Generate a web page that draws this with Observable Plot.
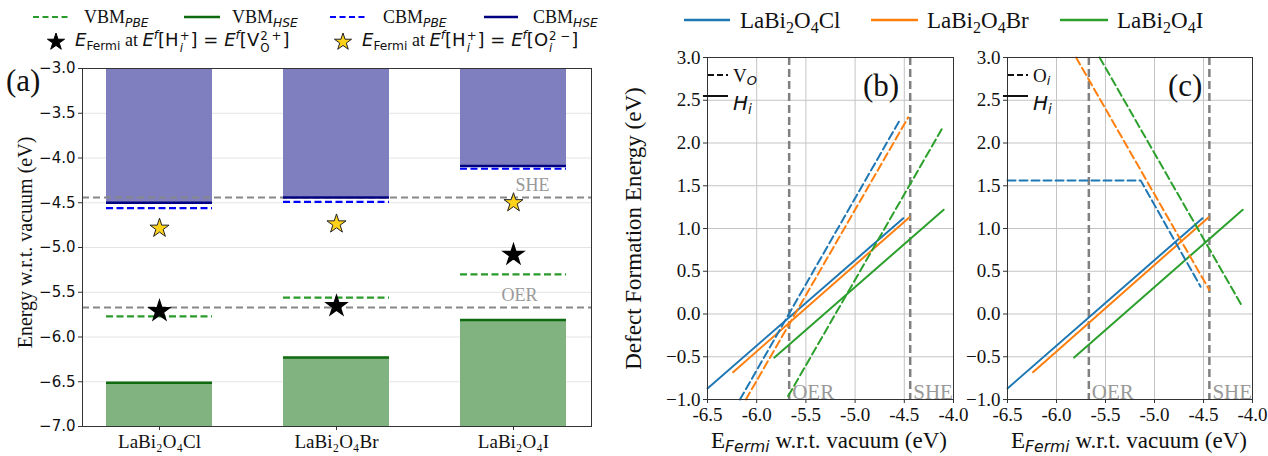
<!DOCTYPE html>
<html><head><meta charset="utf-8">
<script src="https://cdn.jsdelivr.net/npm/d3@7"></script>
<script src="https://cdn.jsdelivr.net/npm/@observablehq/plot@0.6"></script>
<style>
html,body{margin:0;padding:0;background:#fff;overflow:hidden}
#root{position:relative;width:1268px;height:456px;background:#fff}
.ov{position:absolute;white-space:nowrap;line-height:1;color:#111;transform:translateY(-50%)}
.serif{font-family:"Liberation Serif",serif}
.mi{font-family:"DejaVu Sans";font-style:italic}
.ms{font-family:"DejaVu Sans"}
.sb{font-size:0.68em;vertical-align:-0.3em;line-height:0}
.sp{font-size:0.68em;vertical-align:0.55em;line-height:0}
.st{display:inline-flex;flex-direction:column;vertical-align:middle;font-size:0.66em;line-height:1.05;margin:0 1px;font-family:"DejaVu Sans"}
</style></head>
<body><div id="root"></div>
<script>
// ---------- data: panel (a) band edges ----------
const categories = ["LaBi₂O₄Cl", "LaBi₂O₄Br", "LaBi₂O₄I"];
const cbmHSE = [-4.50, -4.44, -4.09];
const cbmPBE = [-4.56, -4.49, -4.12];
const vbmHSE = [-6.51, -6.23, -5.81];
const vbmPBE = [-5.77, -5.56, -5.30];
const starVO = [-5.71, -5.655, -5.08];   // E_Fermi at Ef[H_i+] = Ef[V_O2+]
const starOi = [-4.785, -4.737, -4.50];  // E_Fermi at Ef[H_i+] = Ef[O_i2-]
const refLevels = [-4.44, -5.67];        // SHE, OER
const refNames = ["SHE", "OER"];
const yTicksA = [-7.0, -6.5, -6.0, -5.5, -5.0, -4.5, -4.0, -3.5, -3.0];

// ---------- data: panels (b),(c) defect formation energies ----------
const xTicksB = [-6.5, -6.0, -5.5, -5.0, -4.5, -4.0];
const yTicksB = [-1.0, -0.5, 0.0, 0.5, 1.0, 1.5, 2.0, 2.5, 3.0];
const seriesColors = ["#1f77b4", "#ff7f0e", "#2ca02c"];
const hiCl = [[-6.50, -0.87], [-4.51, 1.12]];
const hiBr = [[-6.24, -0.68], [-4.45, 1.13]];
const hiI  = [[-5.82, -0.51], [-4.10, 1.22]];
const voCl = [[-6.17, -1.00], [-4.54, 2.28]];
const voBr = [[-6.11, -1.00], [-4.46, 2.30]];
const voI  = [[-5.68, -0.96], [-4.12, 2.16]];
const oiCl = [[-6.50, 1.56], [-5.14, 1.56], [-4.53, 0.32]];
const oiBr = [[-5.80, 3.00], [-4.44, 0.28]];
const oiI  = [[-5.56, 3.00], [-4.10, 0.08]];

const root = document.getElementById("root");
function place(el, left, top) {
  el.style.position = "absolute"; el.style.left = left + "px"; el.style.top = top + "px";
  root.appendChild(el);
}
function addHTML(html, left, top, cls, fontSize) {
  const d = document.createElement("div");
  d.className = "ov " + (cls || "");
  d.innerHTML = html;
  d.style.left = left + "px"; d.style.top = top + "px";
  if (fontSize) d.style.fontSize = fontSize + "px";
  root.appendChild(d);
  return d;
}
function lineIcon(x0, x1, y, color, dash, sw) {
  const w = x1 - x0;
  const d = document.createElement("div");
  d.style.position = "absolute"; d.style.left = x0 + "px"; d.style.top = (y - 4) + "px";
  d.innerHTML = `<svg width="${w}" height="8" style="display:block;overflow:visible"><line x1="0" y1="4" x2="${w}" y2="4" stroke="${color}" stroke-width="${sw}" ${dash ? `stroke-dasharray="${dash}"` : ""}/></svg>`;
  root.appendChild(d);
}
function starIcon(cx, cy, fill, stroke, outer) {
  const size = outer * outer / 0.8908130915;
  const p = d3.symbol(d3.symbolStar, size)();
  const d = document.createElement("div");
  d.style.position = "absolute"; d.style.left = (cx - 12) + "px"; d.style.top = (cy - 12) + "px";
  d.innerHTML = `<svg width="24" height="24" viewBox="-12 -12 24 24" style="display:block;overflow:visible"><path d="${p}" fill="${fill}" stroke="${stroke}" stroke-width="1"/></svg>`;
  root.appendChild(d);
}

const baseStyle = {background: "transparent", overflow: "visible", color: "#111"};
const fmtY = d3.format(".1f");
const idx = [0, 1, 2];
const xc = i => categories[i];

// ---------- panel (a) ----------
const plotA = Plot.plot({
  width: 600, height: 456,
  marginLeft: 82, marginRight: 9, marginTop: 68, marginBottom: 30,
  style: baseStyle,
  x: {type: "band", domain: categories, paddingInner: 0.4, paddingOuter: 0.134, axis: null},
  y: {domain: [-7, -3], axis: null},
  marks: [
    Plot.gridY(yTicksA, {stroke: "#e4e4e4", strokeOpacity: 1}),
    Plot.barY(idx, {x: xc, y1: i => cbmHSE[i], y2: () => -3, fill: "#7f7fbf"}),
    Plot.barY(idx, {x: xc, y1: () => -7, y2: i => vbmHSE[i], fill: "#80b380"}),
    Plot.ruleY(refLevels, {stroke: "#888", strokeWidth: 2, strokeDasharray: "7,4"}),
    Plot.tickY(idx, {x: xc, y: i => cbmPBE[i], stroke: "#0000ff", strokeWidth: 2.2, strokeDasharray: "7,3.5"}),
    Plot.tickY(idx, {x: xc, y: i => cbmHSE[i], stroke: "#000080", strokeWidth: 2.5}),
    Plot.tickY(idx, {x: xc, y: i => vbmPBE[i], stroke: "#2a9a2a", strokeWidth: 2.2, strokeDasharray: "7,3.5"}),
    Plot.tickY(idx, {x: xc, y: i => vbmHSE[i], stroke: "#0e6a0e", strokeWidth: 2.5}),
    Plot.dot(idx, {x: xc, y: i => starVO[i], symbol: "star", r: 6.3, fill: "black", stroke: "black"}),
    Plot.dot(idx, {x: xc, y: i => starOi[i], symbol: "star", r: 6, fill: "#ffd21a", stroke: "#222", strokeWidth: 1}),
    Plot.text([0], {frameAnchor: "right", y: i => refLevels[i], text: i => refNames[i], textAnchor: "middle",
      dx: -59, dy: -12, fill: "#999", fontSize: 18, fontFamily: "Liberation Serif"}),
    Plot.text([1], {frameAnchor: "right", y: i => refLevels[i], text: i => refNames[i], textAnchor: "middle",
      dx: -72, dy: -12, fill: "#999", fontSize: 18, fontFamily: "Liberation Serif"}),
    Plot.axisY(yTicksA, {tickFormat: fmtY, tickSize: 4, tickPadding: 3, fontSize: 15, fontFamily: "DejaVu Sans", label: null, stroke: "#333"}),
    Plot.axisX({tickSize: 4, tickPadding: 4, fontSize: 19, fontFamily: "Liberation Serif", label: null, stroke: "#333"}),
    Plot.frame({stroke: "#333"}),
    Plot.text(["Energy w.r.t. vacuum (eV)"], {text: d => d, frameAnchor: "left", textAnchor: "middle", dx: -57, dy: -5, rotate: -90,
      fontSize: 20, fontFamily: "Liberation Serif", fill: "#111"})
  ]
});
place(plotA, 0, 0);

// ---------- panels (b) & (c) ----------
function defectPanel(left, width, ml, mr, dashed, withYLabel) {
  const marks = [
    Plot.gridX(xTicksB, {stroke: "#c4c4c4", strokeOpacity: 1}),
    Plot.gridY(yTicksB, {stroke: "#c4c4c4", strokeOpacity: 1}),
    Plot.ruleX(refLevels, {stroke: "#808080", strokeWidth: 2.5, strokeDasharray: "8,4"}),
    Plot.text([0, 1], {x: i => refLevels[i], y: () => -1, text: i => refNames[i], textAnchor: "start", lineAnchor: "bottom",
      dx: 3, dy: -1, fill: "#999", fontSize: 21, fontFamily: "Liberation Serif"})
  ];
  [hiCl, hiBr, hiI].forEach((pts, k) => marks.push(Plot.line(pts, {x: d => d[0], y: d => d[1], stroke: seriesColors[k], strokeWidth: 2})));
  dashed.forEach((pts, k) => marks.push(Plot.line(pts, {x: d => d[0], y: d => d[1], stroke: seriesColors[k], strokeWidth: 2, strokeDasharray: "8,4"})));
  marks.push(
    Plot.axisX(xTicksB, {tickFormat: d => d.toFixed(1), tickSize: 4, tickPadding: 4, fontSize: 19, fontFamily: "Liberation Serif", label: null, stroke: "#333"}),
    Plot.axisY(yTicksB, {tickFormat: fmtY, tickSize: 4, tickPadding: 3, fontSize: 19, fontFamily: "Liberation Serif", label: null, stroke: "#333"}),
    Plot.frame({stroke: "#333"})
  );
  if (withYLabel) marks.push(Plot.text(["Defect Formation Energy (eV)"], {text: d => d, frameAnchor: "left", textAnchor: "middle", dx: -74, rotate: -90,
    fontSize: 23, fontFamily: "Liberation Serif", fill: "#111"}));
  const p = Plot.plot({
    width, height: 456, marginLeft: ml, marginRight: mr, marginTop: 57, marginBottom: 57,
    style: baseStyle,
    x: {domain: [-6.5, -4.0], axis: null},
    y: {domain: [-1, 3], axis: null},
    marks
  });
  place(p, left, 0);
}
defectPanel(600, 360, 107, 7, [voCl, voBr, voI], true);
defectPanel(960, 308, 47, 16, [oiCl, oiBr, oiI], false);

// ---------- legends & labels ----------
// panel (a) legend
lineIcon(33, 69, 17, "#2a9a2a", "6,3.5", 2);
addHTML(`VBM<span class="sb mi">PBE</span>`, 84, 17, "serif", 18);
lineIcon(184, 220, 17, "#0e6a0e", null, 2.5);
addHTML(`VBM<span class="sb mi">HSE</span>`, 232, 17, "serif", 18);
lineIcon(330, 368, 17, "#0000ff", "6,3.5", 2);
addHTML(`CBM<span class="sb mi">PBE</span>`, 383, 17, "serif", 18);
lineIcon(484, 518, 17, "#000080", null, 2.5);
addHTML(`CBM<span class="sb mi">HSE</span>`, 533, 17, "serif", 18);
starIcon(56, 42, "black", "black", 9);
addHTML(`<span class="mi">E</span><span class="sb ms">Fermi</span> at <span class="mi">E</span><span class="sp mi">f</span><span class="ms">[H</span><span class="st"><span>+</span><span style="font-style:italic">i</span></span><span class="ms">] = </span><span class="mi">E</span><span class="sp mi">f</span><span class="ms">[V</span><span class="st"><span>2 +</span><span>O</span></span><span class="ms">]</span>`, 75, 42, "serif", 18);
starIcon(343, 42, "#ffd21a", "#222", 9);
addHTML(`<span class="mi">E</span><span class="sb ms">Fermi</span> at <span class="mi">E</span><span class="sp mi">f</span><span class="ms">[H</span><span class="st"><span>+</span><span style="font-style:italic">i</span></span><span class="ms">] = </span><span class="mi">E</span><span class="sp mi">f</span><span class="ms">[O</span><span class="st"><span>2 −</span><span style="font-style:italic">i</span></span><span class="ms">]</span>`, 362, 42, "serif", 18);

// panels (b),(c) top legend
const sub = t => `<sub style="font-size:0.7em;line-height:0">${t}</sub>`;
const legNames = [`LaBi${sub(2)}O${sub(4)}Cl`, `LaBi${sub(2)}O${sub(4)}Br`, `LaBi${sub(2)}O${sub(4)}I`];
const legLine = [[684, 730], [871, 918], [1060, 1108]];
const legText = [740, 927, 1117];
legNames.forEach((n, k) => {
  lineIcon(legLine[k][0], legLine[k][1], 20, seriesColors[k], null, 2.5);
  addHTML(n, legText[k], 20, "serif", 23);
});

// panel labels
[["(a)", 6, 80], ["(b)", 863, 85], ["(c)", 1168, 85]].forEach(([t, x, y]) => addHTML(t, x, y, "serif", 31));

// in-axes defect legends
function innerLegend(x0, label) {
  lineIcon(x0 + 1, x0 + 21, 75, "#111", "6,3", 2);
  addHTML(label, x0 + 26, 75, "serif", 19);
  lineIcon(x0 - 4, x0 + 21, 96, "#111", null, 2);
  addHTML(`<span class="mi">H</span><span class="sb mi">i</span>`, x0 + 26, 103, "", 20);
}
innerLegend(707, `V<span class="sb mi">O</span>`);
innerLegend(1007, `O<span class="sb mi">i</span>`);

// x labels (b),(c)
[829, 1129].forEach(cx => {
  const d = addHTML(`E<span class="sb mi">Fermi</span> w.r.t. vacuum (eV)`, cx, 440, "serif", 23);
  d.style.transform = "translate(-50%,-50%)";
});
</script>
</body></html>
